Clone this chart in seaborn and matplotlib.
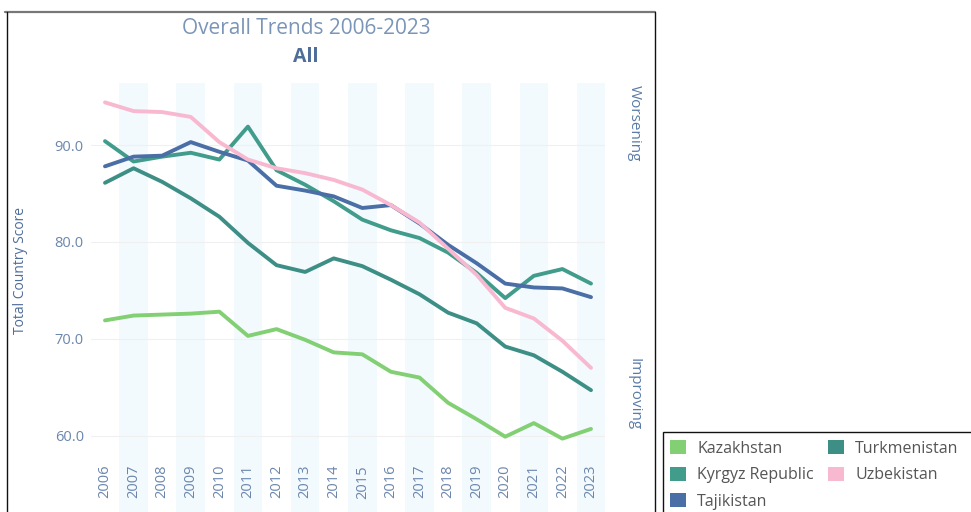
import matplotlib
matplotlib.use("Agg")
import matplotlib.pyplot as plt
import seaborn as sns
import pandas as pd
from matplotlib.patches import Patch, Rectangle
from matplotlib.lines import Line2D

years = list(range(2006, 2024))
kazakhstan = [71.9, 72.4, 72.5, 72.6, 72.8, 70.3, 71.0, 69.9, 68.6, 68.4, 66.6, 66.0, 63.4, 61.7, 59.9, 61.3, 59.7, 60.7]
kyrgyz = [90.4, 88.3, 88.8, 89.2, 88.5, 91.9, 87.4, 85.9, 84.2, 82.3, 81.2, 80.4, 78.9, 76.8, 74.2, 76.5, 77.2, 75.7]
tajikistan = [87.8, 88.8, 88.9, 90.3, 89.3, 88.4, 85.8, 85.3, 84.7, 83.5, 83.8, 81.9, 79.7, 77.8, 75.7, 75.3, 75.2, 74.3]
turkmenistan = [86.1, 87.6, 86.2, 84.5, 82.6, 79.9, 77.6, 76.9, 78.3, 77.5, 76.1, 74.6, 72.7, 71.6, 69.2, 68.3, 66.6, 64.7]
uzbekistan = [94.4, 93.5, 93.4, 92.9, 90.3, 88.5, 87.6, 87.1, 86.4, 85.4, 83.8, 82.0, 79.3, 76.6, 73.2, 72.1, 69.8, 67.0]
countries = ["Kazakhstan", "Kyrgyz Republic", "Tajikistan", "Turkmenistan", "Uzbekistan"]
series = [kazakhstan, kyrgyz, tajikistan, turkmenistan, uzbekistan]
colors = {"Kazakhstan": "#82cf74", "Kyrgyz Republic": "#419c8b", "Tajikistan": "#4a6ea6",
          "Turkmenistan": "#3d8f86", "Uzbekistan": "#f8b9d0"}
yticks = [60, 70, 80, 90]

rows = []
for c, vals in zip(countries, series):
    for y, v in zip(years, vals):
        rows.append({"Year": y, "Country": c, "Score": v})
df = pd.DataFrame(rows)

sns.set_style("white")
plt.rcParams["font.family"] = ["Open Sans", "DejaVu Sans"]

W, H = 971, 512
fig = plt.figure(figsize=(W / 100, H / 100), dpi=100)
ax = fig.add_axes([90.7 / W, 54 / H, 514.6 / W, 375 / H])

# alternating bands
for y in years:
    if (y - 2006) % 2 == 1:
        ax.add_patch(Rectangle((y - 0.5, -0.16), 1.0, 1.16, transform=ax.get_xaxis_transform(),
                               facecolor="#f3fafe", edgecolor="none", clip_on=False, zorder=0))

sns.lineplot(data=df, x="Year", y="Score", hue="Country", palette=colors, hue_order=countries,
             linewidth=2.8, ax=ax, legend=False, zorder=3)

ax.set_xlim(2005.5, 2023.5)
ax.set_ylim(57.7, 96.4)
ax.set_yticks(yticks)
ax.set_yticklabels([f"{v:.1f}" for v in yticks], color="#6b86ad", fontsize=10.5)
ax.set_xticks(years)
ax.set_xticklabels([str(y) for y in years], rotation=90, color="#6b86ad", fontsize=10.5)
ax.tick_params(axis="x", length=0, pad=5)
ax.tick_params(axis="y", length=0, pad=5)
for y in yticks:
    ax.axhline(y, color="#f0f0f0", linewidth=0.8, zorder=1)
for s in ax.spines.values():
    s.set_visible(False)
ax.set_xlabel("")
ax.set_ylabel("Total Country Score", color="#4e6d99", fontsize=10)
ax.yaxis.set_label_coords((28 - 90.7) / 514.6, (512 - 270 - 54) / 375)

fig.text(306 / W, 1 - 28 / H, "Overall Trends 2006-2023", ha="center", va="center",
         color="#7a95b8", fontsize=15)
fig.text(306 / W, 1 - 57 / H, "All", ha="center", va="center", color="#4e6d99",
         fontsize=14, fontweight="bold")
fig.text(634 / W, 1 - 123 / H, "Worsening", ha="center", va="center", rotation=-90,
         color="#5b7ba8", fontsize=11)
fig.text(634 / W, 1 - 394 / H, "Improving", ha="center", va="center", rotation=-90,
         color="#5b7ba8", fontsize=11)

# frame lines
fig.add_artist(Line2D([5 / W, 655 / W], [1 - 12 / H, 1 - 12 / H], color="#777777", linewidth=1.6))
fig.add_artist(Line2D([7 / W, 7 / W], [0, 1 - 12 / H], color="#111111", linewidth=1.0))
fig.add_artist(Line2D([655 / W, 655 / W], [0, 1 - 12 / H], color="#111111", linewidth=1.0))

# legend box
fig.add_artist(Rectangle((663 / W, -0.02), (W - 663 + 10) / W, (512 - 432) / H + 0.02,
                         transform=fig.transFigure, facecolor="white", edgecolor="#111111",
                         linewidth=1.0))
handles = [Patch(facecolor=colors[c], edgecolor="none", label=c) for c in countries]
leg = fig.legend(handles=handles, loc="upper left", bbox_to_anchor=(670 / W, 1 - 440 / H),
                 ncol=2, frameon=False, fontsize=11.5, handlelength=1.0, handleheight=1.0,
                 handletextpad=0.7, columnspacing=0.9, labelspacing=0.62, borderaxespad=0,
                 borderpad=0)
for t in leg.get_texts():
    t.set_color("#555555")

fig.savefig("out.png", dpi=100)
